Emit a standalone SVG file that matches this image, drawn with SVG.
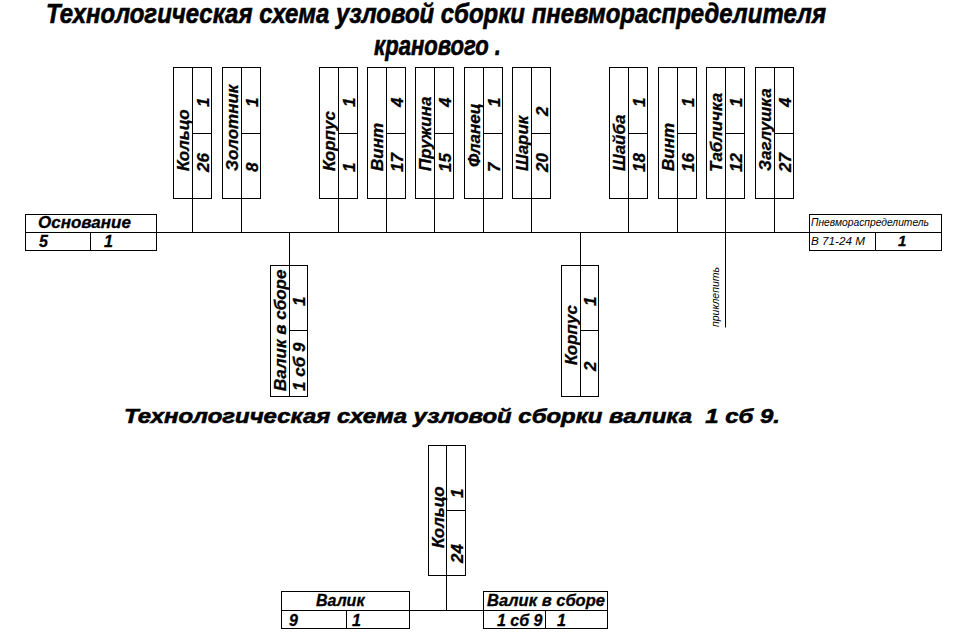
<svg xmlns="http://www.w3.org/2000/svg" width="960" height="641" viewBox="0 0 960 641">
<style>
.b{fill:none;stroke:#000;stroke-width:1}
.l{stroke:#000;stroke-width:1;fill:none}
text{font-family:"Liberation Sans",Arial,sans-serif;font-weight:bold;font-style:italic;fill:#000;stroke:#000;stroke-width:0.3}
.h{stroke-width:0.6}
.t{font-size:17px}
.n{font-size:16px}
.s{font-size:10px;font-weight:normal;stroke-width:0}
</style>
<rect width="960" height="641" fill="#fff"/>
<g id="titles">
<text class="h" x="46" y="23" font-size="27" textLength="780" lengthAdjust="spacingAndGlyphs">Технологическая схема узловой сборки пневмораспределителя</text>
<text class="h" x="374" y="55" font-size="27" textLength="127" lengthAdjust="spacingAndGlyphs">кранового .</text>
<text class="h" x="124" y="423" font-size="21" textLength="656" lengthAdjust="spacingAndGlyphs">Технологическая схема узловой сборки валика&#160; 1 сб 9.</text>
</g>
<g id="connectors">
<path class="l" d="M156.5 232.5H809.5"/>
<path class="l" d="M192.5 198.5V232.5M241.5 198.5V232.5M338.5 198.5V232.5M386.5 198.5V232.5M434.5 198.5V232.5M483.5 198.5V232.5M531.5 198.5V232.5M628.5 198.5V232.5M677.5 198.5V232.5M774.5 198.5V232.5"/>
<path class="l" d="M725.5 198.5V327.5"/>
<path class="l" d="M289.5 232.5V265.5M580.5 232.5V265.5"/>
<path class="l" d="M409.5 610.5H483.5M446.5 575.5V610.5"/>
</g>
<g id="osnovanie">
<rect class="b" x="25.5" y="214.5" width="131" height="36"/>
<path class="l" d="M25.5 232.5H156.5M90.5 232.5V250.5"/>
<text class="t" x="38" y="228">Основание</text>
<text class="n" x="39" y="247">5</text>
<text class="n" x="104" y="247">1</text>
</g>
<g id="pnevmo">
<rect class="b" x="809.5" y="214.5" width="132" height="36"/>
<path class="l" d="M809.5 232.5H941.5M875.5 232.5V250.5"/>
<text class="s" x="811" y="226" textLength="118" lengthAdjust="spacingAndGlyphs">Пневмораспределитель</text>
<text class="s" x="811" y="245" textLength="54" lengthAdjust="spacingAndGlyphs">В 71-24 М</text>
<text x="898" y="246" font-size="15">1</text>
</g>
<g id="n-kolco26">
<rect class="b" x="173.5" y="67.5" width="38" height="131"/>
<path class="l" d="M192.5 67.5V198.5M192.5 133.5H211.5"/>
<text class="t" transform="translate(189,171) rotate(-90)">Кольцо</text>
<text class="t" transform="translate(209,107) rotate(-90)">1</text>
<text class="t" transform="translate(209,172) rotate(-90)">26</text>
</g>
<g id="n-zolotnik">
<rect class="b" x="222.5" y="67.5" width="38" height="131"/>
<path class="l" d="M241.5 67.5V198.5M241.5 133.5H260.5"/>
<text class="t" transform="translate(238,171) rotate(-90)">Золотник</text>
<text class="t" transform="translate(258,107) rotate(-90)">1</text>
<text class="t" transform="translate(258,172) rotate(-90)">8</text>
</g>
<g id="n-korpus1">
<rect class="b" x="319.5" y="67.5" width="38" height="131"/>
<path class="l" d="M338.5 67.5V198.5M338.5 133.5H357.5"/>
<text class="t" transform="translate(335,171) rotate(-90)">Корпус</text>
<text class="t" transform="translate(355,107) rotate(-90)">1</text>
<text class="t" transform="translate(355,172) rotate(-90)">1</text>
</g>
<g id="n-vint17">
<rect class="b" x="367.5" y="67.5" width="38" height="131"/>
<path class="l" d="M386.5 67.5V198.5M386.5 133.5H405.5"/>
<text class="t" transform="translate(383,171) rotate(-90)">Винт</text>
<text class="t" transform="translate(403,107) rotate(-90)">4</text>
<text class="t" transform="translate(403,172) rotate(-90)">17</text>
</g>
<g id="n-pruzhina">
<rect class="b" x="415.5" y="67.5" width="38" height="131"/>
<path class="l" d="M434.5 67.5V198.5M434.5 133.5H453.5"/>
<text class="t" transform="translate(431,171) rotate(-90)">Пружина</text>
<text class="t" transform="translate(451,107) rotate(-90)">4</text>
<text class="t" transform="translate(451,172) rotate(-90)">15</text>
</g>
<g id="n-flanec">
<rect class="b" x="464.5" y="67.5" width="38" height="131"/>
<path class="l" d="M483.5 67.5V198.5M483.5 133.5H502.5"/>
<text class="t" transform="translate(480,167) rotate(-90)">Фланец</text>
<text class="t" transform="translate(500,107) rotate(-90)">1</text>
<text class="t" transform="translate(500,172) rotate(-90)">7</text>
</g>
<g id="n-sharik">
<rect class="b" x="512.5" y="67.5" width="38" height="131"/>
<path class="l" d="M531.5 67.5V198.5M531.5 133.5H550.5"/>
<text class="t" transform="translate(528,171) rotate(-90)">Шарик</text>
<text class="t" transform="translate(548,116) rotate(-90)">2</text>
<text class="t" transform="translate(548,172) rotate(-90)">20</text>
</g>
<g id="n-shaiba">
<rect class="b" x="609.5" y="67.5" width="38" height="131"/>
<path class="l" d="M628.5 67.5V198.5M628.5 133.5H647.5"/>
<text class="t" transform="translate(625,171) rotate(-90)">Шайба</text>
<text class="t" transform="translate(645,107) rotate(-90)">1</text>
<text class="t" transform="translate(645,172) rotate(-90)">18</text>
</g>
<g id="n-vint16">
<rect class="b" x="658.5" y="67.5" width="38" height="131"/>
<path class="l" d="M677.5 67.5V198.5M677.5 133.5H696.5"/>
<text class="t" transform="translate(674,171) rotate(-90)">Винт</text>
<text class="t" transform="translate(694,107) rotate(-90)">1</text>
<text class="t" transform="translate(694,172) rotate(-90)">16</text>
</g>
<g id="n-tablichka">
<rect class="b" x="706.5" y="67.5" width="38" height="131"/>
<path class="l" d="M725.5 67.5V198.5M725.5 133.5H744.5"/>
<text class="t" transform="translate(722,172) rotate(-90)">Табличка</text>
<text class="t" transform="translate(742,107) rotate(-90)">1</text>
<text class="t" transform="translate(742,172) rotate(-90)">12</text>
<text class="s" transform="translate(719,327) rotate(-90)" textLength="60" lengthAdjust="spacingAndGlyphs">приклепить</text>
</g>
<g id="n-zaglushka">
<rect class="b" x="755.5" y="67.5" width="38" height="131"/>
<path class="l" d="M774.5 67.5V198.5M774.5 133.5H793.5"/>
<text class="t" transform="translate(771,171) rotate(-90)">Заглушка</text>
<text class="t" transform="translate(791,107) rotate(-90)">4</text>
<text class="t" transform="translate(791,172) rotate(-90)">27</text>
</g>
<g id="n-valik-sb">
<rect class="b" x="270.5" y="265.5" width="37" height="131"/>
<path class="l" d="M289.5 265.5V396.5M289.5 330.5H307.5"/>
<text class="t" transform="translate(286,391) rotate(-90)">Валик в сборе</text>
<text class="t" transform="translate(305,306) rotate(-90)">1</text>
<text class="t" transform="translate(305,391) rotate(-90)">1 сб 9</text>
</g>
<g id="n-korpus2">
<rect class="b" x="561.5" y="265.5" width="37" height="131"/>
<path class="l" d="M580.5 265.5V396.5M580.5 330.5H598.5"/>
<text class="t" transform="translate(577,365) rotate(-90)">Корпус</text>
<text class="t" transform="translate(596,306) rotate(-90)">1</text>
<text class="t" transform="translate(596,371) rotate(-90)">2</text>
</g>
<g id="n-kolco24">
<rect class="b" x="428.5" y="445.5" width="37" height="130"/>
<path class="l" d="M446.5 445.5V575.5M446.5 510.5H465.5"/>
<text class="t" transform="translate(444,548) rotate(-90)">Кольцо</text>
<text class="t" transform="translate(463,498) rotate(-90)">1</text>
<text class="t" transform="translate(463,563) rotate(-90)">24</text>
</g>
<g id="n-valik">
<rect class="b" x="281.5" y="591.5" width="128" height="37"/>
<path class="l" d="M281.5 610.5H409.5M346.5 610.5V628.5"/>
<text class="n" x="316" y="606">Валик</text>
<text class="n" x="289" y="626">9</text>
<text class="n" x="352" y="626">1</text>
</g>
<g id="n-valik-v-sbore">
<rect class="b" x="483.5" y="591.5" width="124" height="37"/>
<path class="l" d="M483.5 610.5H607.5M545.5 610.5V628.5"/>
<text class="n" x="487" y="606" textLength="118" lengthAdjust="spacingAndGlyphs">Валик в сборе</text>
<text class="n" x="497" y="626">1 сб 9</text>
<text class="n" x="557" y="626">1</text>
</g>
</svg>
